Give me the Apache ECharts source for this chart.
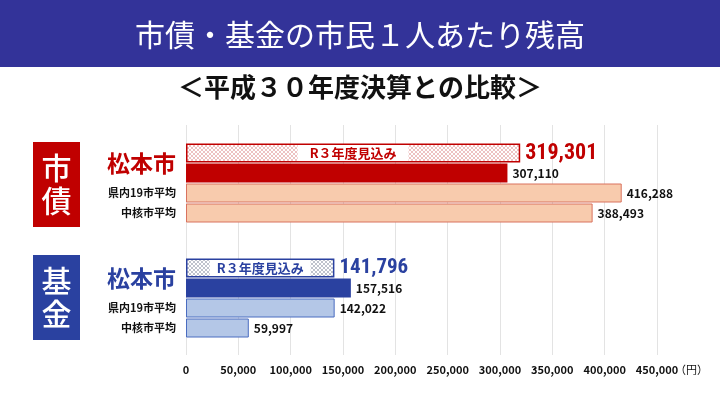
<!DOCTYPE html>
<html>
<head>
<meta charset="utf-8">
<script src="https://cdn.jsdelivr.net/npm/echarts@6/dist/echarts.min.js"></script>
<style>
  html, body { margin: 0; padding: 0; background: #fff; }
  #chart { width: 720px; height: 406px; }
</style>
</head>
<body>
<div id="chart"></div>
<script>
// データ
const rows = ['R３年度見込み', '松本市', '県内19市平均', '中核市平均'];
const debtValues = [319301, 307110, 416288, 388493];
const fundValues = [141796, 157516, 142022, 59997];
const axisMax = 450000;
const axisStep = 50000;

const FONT = '"Noto Sans CJK JP", sans-serif';
const NARROW = '"Liberation Sans Narrow", "Roboto Condensed", Roboto, sans-serif';
const RED = '#c00000';
const BLUE = '#2a41a0';

// 斜線のパターン
function hatch(line) {
  const c = document.createElement('canvas');
  c.width = c.height = 4;
  const ctx = c.getContext('2d');
  ctx.fillStyle = '#fff';
  ctx.fillRect(0, 0, 4, 4);
  ctx.fillStyle = line;
  for (let i = 0; i < 4; i++) {
    ctx.fillRect(i, i, 1, 1);
    ctx.fillRect(i, 3 - i, 1, 1);
  }
  return { image: c, repeat: 'repeat' };
}

function groupStyles(main, hatchColor, lightFill, lightBorder) {
  return [
    { color: hatch(hatchColor), borderColor: main, borderWidth: 1.5 },
    { color: main },
    { color: lightFill, borderColor: lightBorder, borderWidth: 1 },
    { color: lightFill, borderColor: lightBorder, borderWidth: 1 }
  ];
}

const debtStyles = groupStyles(RED, '#edc2c2', '#f8cbad', '#d9735f');
const fundStyles = groupStyles(BLUE, '#bfc3cc', '#b4c7e7', '#4a6cc0');

function valueLabel(i, color, bigSize) {
  if (i === 0) {
    return { show: true, position: 'right', distance: 5, color: color,
      fontSize: bigSize, fontWeight: 'bold', fontFamily: NARROW };
  }
  return { show: true, position: 'right', distance: 5, color: '#111',
    fontSize: 12, fontWeight: 'bold', fontFamily: FONT };
}

function mainSeries(values, styles, color, bigSize, axisIdx) {
  return {
    type: 'bar',
    xAxisIndex: axisIdx,
    yAxisIndex: axisIdx,
    barWidth: 19,
    barGap: '-100%',
    data: values.map((v, i) => ({
      value: v,
      itemStyle: styles[i],
      label: valueLabel(i, color, bigSize)
    })),
    label: { formatter: p => p.value.toLocaleString('en-US') },
    z: 2
  };
}

function tagSeries(values, color, pad, axisIdx) {
  return {
    type: 'bar',
    xAxisIndex: axisIdx,
    yAxisIndex: axisIdx,
    barWidth: 19,
    barGap: '-100%',
    data: values.map((v, i) => (i === 0 ? v : '-')),
    itemStyle: { color: 'transparent' },
    label: {
      show: true,
      position: 'inside',
      formatter: rows[0],
      backgroundColor: '#fff',
      color: color,
      fontSize: 13,
      fontWeight: 'bold',
      fontFamily: FONT,
      padding: [2, pad, 1, pad]
    },
    z: 3
  };
}

function catAxis(gridIndex, color) {
  return {
    type: 'category',
    gridIndex: gridIndex,
    data: rows,
    inverse: true,
    axisLine: { show: false },
    axisTick: { show: false },
    axisLabel: {
      margin: 10,
      formatter: (v, i) => {
        if (i === 0) return '';
        if (i === 1) return '{big|' + v + '}';
        return '{small|' + v + '}';
      },
      rich: {
        big: { fontSize: 23, fontWeight: 'bold', color: color, fontFamily: FONT, padding: [0, 0, 20, 0] },
        small: { fontSize: 11, fontWeight: 'bold', color: '#111', fontFamily: FONT }
      }
    }
  };
}

function hiddenValueAxis(gridIndex) {
  return { type: 'value', gridIndex: gridIndex, min: 0, max: axisMax, interval: axisStep, show: false };
}

function sideBox(y, color, text) {
  return {
    type: 'group',
    left: 33, top: y,
    children: [
      { type: 'rect', shape: { x: 0, y: 0, width: 47, height: 85 }, style: { fill: color } },
      { type: 'text', x: 23.5, y: 42.5,
        style: { text: text, fill: '#fff', fontSize: 30, fontWeight: 500, fontFamily: FONT, lineHeight: 33,
          align: 'center', verticalAlign: 'middle' } }
    ]
  };
}

const chart = echarts.init(document.getElementById('chart'));
chart.setOption({
  animation: false,
  backgroundColor: '#fff',
  grid: [
    { left: 186, width: 471, top: 125, height: 230 },
    { left: 186, width: 471, top: 143, height: 80 },
    { left: 186, width: 471, top: 258, height: 80 }
  ],
  xAxis: [
    {
      type: 'value', gridIndex: 0, min: 0, max: axisMax, interval: axisStep,
      axisLine: { show: false }, axisTick: { show: false },
      splitLine: { show: true, lineStyle: { color: '#e3e3e3', width: 1 } },
      axisLabel: { margin: 9, fontSize: 11, fontWeight: 'bold', color: '#111', fontFamily: FONT,
        formatter: v => v.toLocaleString('en-US') },
      name: '（円）', nameLocation: 'end', nameGap: 18, nameMoveOverlap: false,
      nameTextStyle: { fontSize: 11, color: '#111', fontFamily: FONT, verticalAlign: 'top', padding: [9, 0, 0, 0] }
    },
    hiddenValueAxis(1),
    hiddenValueAxis(2)
  ],
  yAxis: [
    { type: 'category', gridIndex: 0, data: [''], show: false },
    catAxis(1, RED),
    catAxis(2, BLUE)
  ],
  series: [
    mainSeries(debtValues, debtStyles, RED, 22, 1),
    tagSeries(debtValues, RED, 12, 1),
    mainSeries(fundValues, fundStyles, BLUE, 21, 2),
    tagSeries(fundValues, BLUE, 7, 2)
  ],
  graphic: [
    { type: 'rect', left: 0, top: 0, shape: { width: 720, height: 67 }, style: { fill: '#333399' } },
    { type: 'text', left: 'center', top: 20,
      style: { text: '市債・基金の市民１人あたり残高', fill: '#fff', fontSize: 30, fontFamily: FONT } },
    { type: 'text', left: 'center', top: 74,
      style: { text: '＜平成３０年度決算との比較＞', fill: '#111', fontSize: 26, fontWeight: 'bold', fontFamily: FONT } },
    sideBox(142, RED, '市\n債'),
    sideBox(255, BLUE, '基\n金')
  ]
});
</script>
</body>
</html>
